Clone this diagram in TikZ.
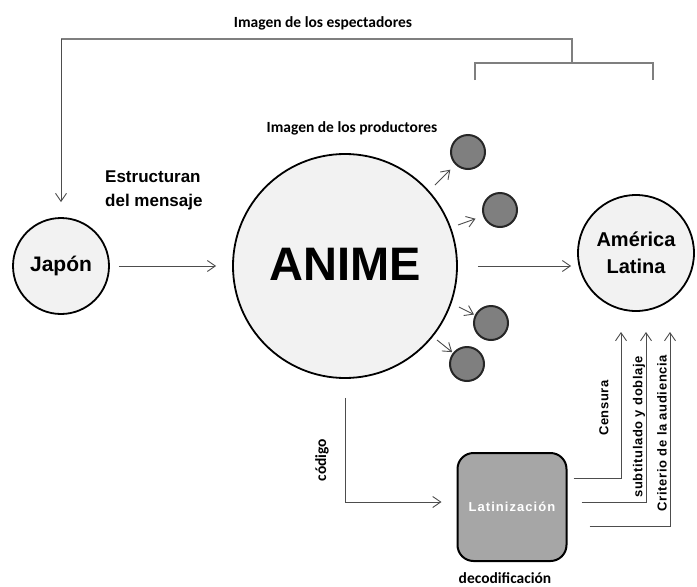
\documentclass[tikz,border=0pt]{standalone}
\usepackage{fontspec}
\setmainfont{Liberation Sans}
\newfontfamily\cb{Carlito}
\newfontfamily\lspa[LetterSpace=5]{Liberation Sans}
\newfontfamily\lspb[LetterSpace=8]{Liberation Sans}
\usetikzlibrary{arrows.meta}
\definecolor{lightfill}{HTML}{F2F2F2}
\definecolor{smallfill}{HTML}{7F7F7F}
\definecolor{boxfill}{HTML}{A6A6A6}
\definecolor{linegray}{HTML}{4D4D4D}
\definecolor{brgray}{HTML}{7F7F7F}
\begin{document}
\begin{tikzpicture}[x=1pt,y=-1pt,
 bigc/.style={circle,draw=black,line width=1.8pt,fill=lightfill,inner sep=0pt,align=center},
 smallc/.style={circle,draw=black!85,line width=2pt,fill=smallfill,minimum size=34pt,inner sep=0pt},
 conn/.style={draw=linegray,line width=0.9pt,-{Straight Barb[length=8pt,width=11pt]}},
 brk/.style={draw=brgray,line width=1.3pt},
 lbl/.style={font=\cb\bfseries\fontsize{15.5}{18}\selectfont,inner sep=0pt},
 vlbl/.style={font=\lspa\bfseries\fontsize{13}{15}\selectfont,rotate=90,inner sep=0pt}
]
\useasboundingbox (0,0) rectangle (697,587);
% main circles
\node[bigc,minimum size=96pt,font=\bfseries\fontsize{21}{25}\selectfont] (jp) at (61,266) {Japón};
\node[bigc,minimum size=224pt,font=\bfseries\fontsize{47}{50}\selectfont] (anime) at (345,266) {\raisebox{3pt}{ANIME}};
\node[bigc,minimum size=116pt,font=\bfseries\fontsize{20}{27}\selectfont] (al) at (636,253) {América\\Latina};
% small circles
\node[smallc] (s1) at (468,152) {};
\node[smallc] (s2) at (500,210) {};
\node[smallc] (s3) at (491,323) {};
\node[smallc] (s4) at (467,364) {};
% Latinizacion box
\node[draw=black,line width=2pt,fill=boxfill,rounded corners=16pt,minimum width=109pt,minimum height=108pt,
      font=\lspb\bfseries\fontsize{13}{15}\selectfont,text=white] (lat) at (512,507) {Latinización};
% labels
\node[lbl] (tesp) at (323,23) {Imagen de los espectadores};
\node[lbl] (tprod) at (352,128) {Imagen de los productores};
\node[font=\bfseries\fontsize{17}{24}\selectfont,align=left,anchor=west,inner sep=0pt] (testr) at (105,190) {Estructuran\\del mensaje};
\node[lbl,rotate=90] (tcod) at (322,460) {código};
\node[lbl] (tdec) at (505,578) {decodificación};
\node[vlbl] (tcen) at (604,408) {Censura};
\node[vlbl] (tsub) at (639,427) {subtitulado y doblaje};
\node[vlbl] (tcri) at (662,433) {Criterio de la audiencia};
% coordinates
\coordinate (tl) at (61,39);
\coordinate (tr) at (572,39);
\coordinate (tm) at (572,63);
\coordinate (bl) at (475,63);
\coordinate (br) at (653,63);
\coordinate (a1) at (435,185);
\coordinate (a2) at (458,225);
\coordinate (a3) at (459,307);
\coordinate (a4) at (437,340);
\coordinate (c1t) at (621,332);
\coordinate (c2t) at (646,332);
\coordinate (c3t) at (670,332);
% bracket on top
\draw[brk] (tl) -- (tr) -- (tm);
\draw[brk] ([yshift=-17pt]bl) -- (bl) -- (br) -- ([yshift=-17pt]br);
\draw[conn,shorten >=15pt] (tl) -- (tl |- jp.north);
% main flow
\draw[conn,shorten <=9pt,shorten >=16pt] (jp.east) -- (anime.west);
\draw[conn,shorten <=20pt,shorten >=6pt] (anime.east) -- (anime.east -| al.west);
% to small circles
\draw[conn,shorten >=7pt] (a1) -- (s1);
\draw[conn,shorten >=8pt] (a2) -- (s2);
\draw[conn,shorten >=1pt] (a3) -- (s3);
\draw[conn,shorten >=1pt] (a4) -- (s4);
% codigo
\draw[conn] ([yshift=-19pt]anime.south) |- ([yshift=5pt,xshift=-15pt]lat.west);
% from Latinizacion to America Latina
\draw[conn] ([xshift=6pt,yshift=29pt]lat.east) -| (c1t);
\draw[conn] ([xshift=14pt,yshift=5pt]lat.east) -| (c2t);
\draw[conn] ([xshift=22pt,yshift=-19pt]lat.east) -| (c3t);
\end{tikzpicture}
\end{document}
